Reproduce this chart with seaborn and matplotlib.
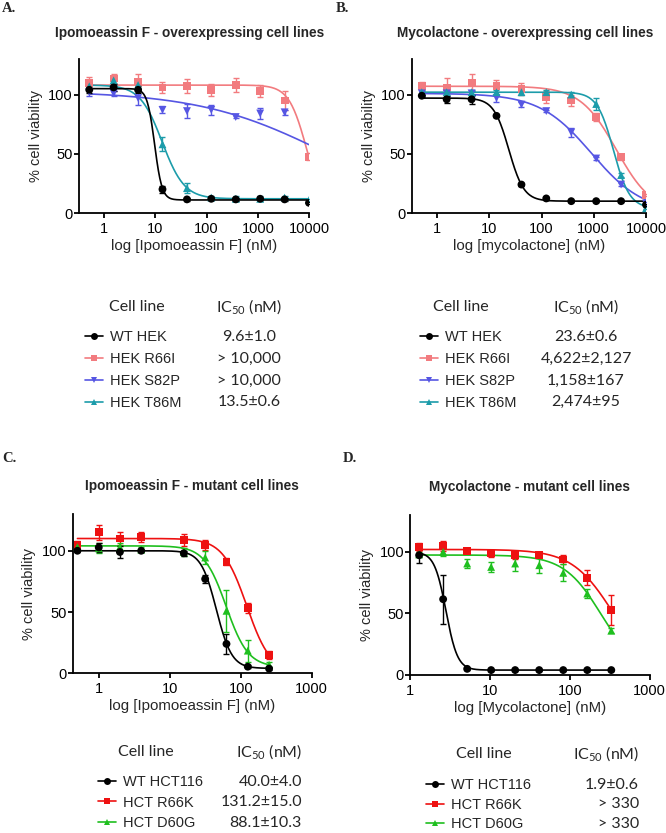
import numpy as np
import pandas as pd
import matplotlib
matplotlib.use("Agg")
import matplotlib.pyplot as plt
import seaborn as sns
from matplotlib.lines import Line2D

# ---- данные ----
conc_ab = [0.508, 1.52, 4.57, 13.7, 41.2, 123, 370, 1111, 3333, 10000]
conc_c = [0.49, 0.98, 1.95, 3.9, 15.6, 31.25, 62.5, 125, 250]
conc_d = [1.29, 2.58, 5.16, 10.3, 20.6, 41.25, 82.5, 165, 330]

# A. Ipomoeassin F - overexpressing
a_wt = [104, 106, 104, 20, 11.5, 12, 11.5, 12, 11.5, 8.6]
a_wt_err = [3, 3, 3, 3, 1, 1, 1, 1, 1, 1]
a_r66i = [110, 113.5, 111, 106, 107, 104, 108, 103, 95, 47.5]
a_r66i_err = [5, 4, 6, 5, 6, 5, 6, 5, 8, 3]
a_s82p = [102, 101, 97, 87, 86, 87, 81, 84, 85]
a_s82p_err = [3, 2, 6, 3, 6, 4, 1, 5, 2]
a_t86m = [107, 112, 108, 58, 21, 13, 12, 12, 13, 11]
a_t86m_err = [2, 4, 4, 6, 4, 1, 2, 2, 1, 1]

# B. Mycolactone - overexpressing
b_wt = [99, 96, 96, 82, 24, 12.3, 10, 10, 10, 7]
b_wt_err = [1, 3, 4, 1, 1, 1, 1, 1, 1, 1]
b_r66i = [107, 106, 110, 107, 105, 98, 95, 81, 47, 15.4]
b_r66i_err = [4, 8, 7, 5, 5, 5, 5, 3, 2, 1]
b_s82p = [101, 101, 101, 97, 91.5, 86, 68, 46, 24, 8]
b_s82p_err = [2, 2, 2, 3, 2, 1, 4, 1, 1, 1]
b_t86m = [102, 102, 102, 102, 102, 102, 100, 92, 32, 4]
b_t86m_err = [2, 2, 2, 2, 2, 2, 2, 5, 2, 1]

# C. Ipomoeassin F - mutant
c_wt = [100, 102.7, 99, 100, 98, 77, 24, 5.4, 3.8]
c_wt_err = [1, 4, 5, 1, 2, 3, 8, 1, 1]
c_r66k = [105, 115, 110, 111.5, 109, 105, 91, 53, 15]
c_r66k_err = [3, 6, 5, 4, 5, 4, 3, 4, 3]
c_d60g = [103, 102, 103, 101, 99, 94.5, 51, 18.5, 7]
c_d60g_err = [2, 4, 3, 2, 3, 5, 17, 9, 2]

# D. Mycolactone - mutant
d_wt = [97.3, 61.6, 5, 4, 4, 4, 4, 4, 4]
d_wt_err = [6, 20, 1, 1, 1, 1, 1, 1, 1]
d_r66k = [104, 104.6, 101, 98.7, 97.3, 97.3, 93.8, 79, 52.7]
d_r66k_err = [3, 4, 2, 3, 3, 1, 4, 6, 12]
d_d60g = [98, 100, 90.6, 87.8, 90.6, 89.2, 83, 66.2, 36]
d_d60g_err = [2, 3, 4, 4, 6, 6, 7, 4, 2]

# параметры подгонки (top, bottom, IC50, hill)
fits = {
    'A': {'WT HEK': (105, 11, 9.6, 6), 'HEK R66I': (108, 0, 9000, 2.5),
          'HEK S82P': (103, 0, 20000, 0.35), 'HEK T86M': (108, 12, 13.5, 2.0)},
    'B': {'WT HEK': (97, 10, 23.6, 3), 'HEK R66I': (107, 0, 2700, 1.26),
          'HEK S82P': (101, 0, 900, 0.87), 'HEK T86M': (102, 4, 2380, 2.8)},
    'C': {'WT HCT116': (100, 4, 45, 4), 'HCT R66K': (110, 0, 121, 2.56),
          'HCT D60G': (104, 5, 62, 2.8)},
    'D': {'WT HCT116': (100, 4, 2.8, 6), 'HCT R66K': (102, 0, 345, 1.69),
          'HCT D60G': (97.5, 0, 249, 1.85)},
}

ic50_a = ['9.6±1.0', '> 10,000', '> 10,000', '13.5±0.6']
ic50_b = ['23.6±0.6', '4,622±2,127', '1,158±167', '2,474±95']
ic50_c = ['40.0±4.0', '131.2±15.0', '88.1±10.3']
ic50_d = ['1.9±0.6', '> 330', '> 330']

BLACK, PINK, BLUE, TEAL = 'black', '#f27b7f', '#5656e3', '#1c9caa'
RED, GREEN = '#ee1111', '#1fbf1f'

panels = {
    'A': dict(rect=(79, 59, 309, 213), xlim=(0.32, 10000), crange=conc_ab,
              ticks=[1, 10, 100, 1000, 10000],
              title='Ipomoeassin F - overexpressing cell lines', title_xy=(190, 33),
              letter_xy=(2, 8), xlabel='log [Ipomoeassin F] (nM)',
              series=[('HEK R66I', conc_ab, a_r66i, a_r66i_err, PINK, 's'),
                      ('HEK S82P', conc_ab[:9], a_s82p, a_s82p_err, BLUE, 'v'),
                      ('HEK T86M', conc_ab, a_t86m, a_t86m_err, TEAL, '^'),
                      ('WT HEK', conc_ab, a_wt, a_wt_err, BLACK, 'o')],
              order=['WT HEK', 'HEK R66I', 'HEK S82P', 'HEK T86M'],
              ic50=ic50_a, leg_x=85, head_y=307, row_y=337, row_dy=21.7,
              cell_x=137, ic_x=249, ic_ha='center'),
    'B': dict(rect=(412, 59, 646, 213), xlim=(0.33, 10000), crange=conc_ab,
              ticks=[1, 10, 100, 1000, 10000],
              title='Mycolactone - overexpressing cell lines', title_xy=(525, 33),
              letter_xy=(336, 8), xlabel='log [mycolactone] (nM)',
              series=[('HEK R66I', conc_ab, b_r66i, b_r66i_err, PINK, 's'),
                      ('HEK S82P', conc_ab, b_s82p, b_s82p_err, BLUE, 'v'),
                      ('HEK T86M', conc_ab, b_t86m, b_t86m_err, TEAL, '^'),
                      ('WT HEK', conc_ab, b_wt, b_wt_err, BLACK, 'o')],
              order=['WT HEK', 'HEK R66I', 'HEK S82P', 'HEK T86M'],
              ic50=ic50_b, leg_x=420, head_y=307, row_y=337, row_dy=21.7,
              cell_x=461, ic_x=586, ic_ha='center'),
    'C': dict(rect=(72.7, 514, 311.7, 673.3), xlim=(0.42, 1000), crange=conc_c,
              ticks=[1, 10, 100, 1000],
              title='Ipomoeassin F - mutant cell lines', title_xy=(192, 486),
              letter_xy=(2, 458), xlabel='log [Ipomoeassin F] (nM)',
              series=[('HCT R66K', conc_c, c_r66k, c_r66k_err, RED, 's'),
                      ('HCT D60G', conc_c, c_d60g, c_d60g_err, GREEN, '^'),
                      ('WT HCT116', conc_c, c_wt, c_wt_err, BLACK, 'o')],
              order=['WT HCT116', 'HCT R66K', 'HCT D60G'],
              ic50=ic50_c, leg_x=98, head_y=752, row_y=782, row_dy=20.3,
              cell_x=146, ic_x=302, ic_ha='right'),
    'D': dict(rect=(410.3, 515, 649.7, 675), xlim=(1, 1000), crange=conc_d,
              ticks=[1, 10, 100, 1000],
              title='Mycolactone - mutant cell lines', title_xy=(529, 487),
              letter_xy=(343, 458), xlabel='log [Mycolactone] (nM)',
              series=[('HCT R66K', conc_d, d_r66k, d_r66k_err, RED, 's'),
                      ('HCT D60G', conc_d, d_d60g, d_d60g_err, GREEN, '^'),
                      ('WT HCT116', conc_d, d_wt, d_wt_err, BLACK, 'o')],
              order=['WT HCT116', 'HCT R66K', 'HCT D60G'],
              ic50=ic50_d, leg_x=426, head_y=754, row_y=785, row_dy=19.5,
              cell_x=484, ic_x=639, ic_ha='right'),
}

sns.set_style("ticks")
plt.rcParams['font.family'] = ['Liberation Sans', 'DejaVu Sans']
plt.rcParams['mathtext.fontset'] = 'custom'
plt.rcParams['mathtext.rm'] = 'Lato'

W, H = 666, 833
fig = plt.figure(figsize=(W / 100, H / 100), dpi=100)


def hill(x, top, bottom, ic50, h):
    return bottom + (top - bottom) / (1 + (x / ic50) ** h)


for key, p in panels.items():
    l, t, r, b = p['rect']
    ax = fig.add_axes([l / W, 1 - b / H, (r - l) / W, (b - t) / H])
    handles = {}
    for name, xs, ys, err, col, mk in p['series']:
        top, bot, ic, h = fits[key][name]
        xx = np.logspace(np.log10(min(p['crange'])), np.log10(max(p['crange'])), 300)
        curve = pd.DataFrame({'x': xx, 'y': hill(xx, top, bot, ic, h)})
        sns.lineplot(data=curve, x='x', y='y', color=col, linewidth=1.2, ax=ax)
        pts = pd.DataFrame({'conc': xs, 'via': ys, 'sem': err})
        ax.errorbar(pts['conc'], pts['via'], yerr=pts['sem'], fmt='none',
                    ecolor=col, elinewidth=1.0, capsize=2.5, capthick=1.0)
        sns.scatterplot(data=pts, x='conc', y='via', color=col, marker=mk,
                        s=32, edgecolor='none', ax=ax, zorder=5)
        handles[name] = Line2D([], [], color=col, marker=mk, markersize=5,
                               linewidth=1.2, markeredgewidth=0)
    ax.set_xscale('log')
    ax.set_xlim(*p['xlim'])
    ax.set_ylim(0, 130)
    ax.set_xticks(p['ticks'])
    ax.set_xticklabels([str(v) for v in p['ticks']])
    ax.minorticks_off()
    ax.set_yticks([0, 50, 100])
    ax.tick_params(labelsize=10.5, length=3.5, width=1.3, colors='black')
    ax.tick_params(axis='y', pad=1)
    ax.tick_params(axis='x', pad=3)
    for s in ['top', 'right']:
        ax.spines[s].set_visible(False)
    for s in ['left', 'bottom']:
        ax.spines[s].set_linewidth(1.3)
        ax.spines[s].set_color('black')
    ax.set_xlabel(p['xlabel'], fontsize=10.8, labelpad=2)
    ax.set_ylabel('% cell viability', fontsize=10.5, labelpad=4)

    fig.text(p['title_xy'][0] / W, 1 - p['title_xy'][1] / H, p['title'],
             ha='center', va='center', fontsize=9.8, fontweight='bold')
    fig.text(p['letter_xy'][0] / W, 1 - p['letter_xy'][1] / H, key + '.',
             ha='left', va='center', fontsize=10.5, fontweight='bold',
             family=['Liberation Serif'])

    # таблица IC50
    fig.text(p['cell_x'] / W, 1 - p['head_y'] / H, 'Cell line', ha='center',
             va='center', fontsize=11.5, family=['Lato'])
    fig.text(p['ic_x'] / W, 1 - p['head_y'] / H, 'IC$\\mathregular{_{50}}$ (nM)',
             ha=p['ic_ha'], va='center', fontsize=11.5, family=['Lato'])
    fig.legend([handles[n] for n in p['order']], p['order'],
               loc='upper left', frameon=False, fontsize=10.5,
               bbox_to_anchor=(p['leg_x'] / W, 1 - (p['row_y'] - 6.9) / H),
               borderpad=0, borderaxespad=0, handlelength=1.25,
               handletextpad=0.45, labelspacing=(p['row_dy'] - 13.8) / 14.6)
    for i, v in enumerate(p['ic50']):
        fig.text(p['ic_x'] / W, 1 - (p['row_y'] + i * p['row_dy']) / H, v,
                 ha=p['ic_ha'], va='center', fontsize=11.5, family=['Lato'])

fig.savefig('out.png', dpi=100)
